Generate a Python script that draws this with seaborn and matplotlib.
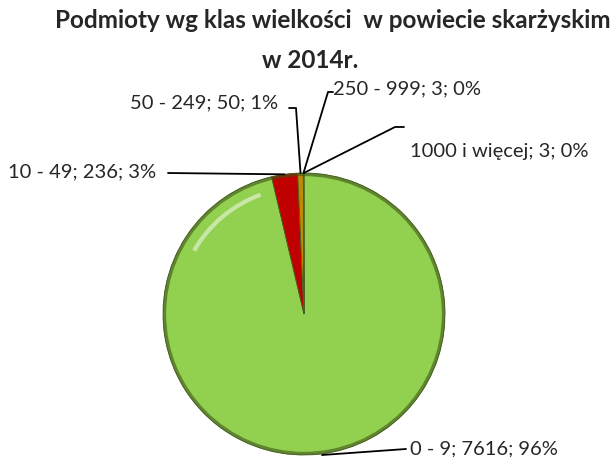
import numpy as np
import matplotlib
matplotlib.use("Agg")
import matplotlib.pyplot as plt
import matplotlib.patches as mpatches
import seaborn as sns

# data
classes = ["0 - 9", "10 - 49", "50 - 249", "250 - 999", "1000 i więcej"]
counts = [7616, 236, 50, 3, 3]
percents = ["96%", "3%", "1%", "0%", "0%"]
colors = ["#92D050", "#C00000", "#C08A00", "#7F6000", "#4F6228"]

sns.set_theme(style="white")
plt.rcParams['font.family'] = ['Lato', 'DejaVu Sans']

fig = plt.figure(figsize=(6.11, 4.57), dpi=100)
W, H = 611, 457

# pie axes: center ~ (304, 314) px, radius ~141 px
cx, cy, r = 304, 314, 141
ax = fig.add_axes([(cx - r) / W, 1 - (cy + r) / H, 2 * r / W, 2 * r / H])
wedges, _ = ax.pie(counts, colors=colors, startangle=90, counterclock=False,
                   wedgeprops=dict(edgecolor="#4a6020", linewidth=0.6))
ax.set_xlim(-1, 1)
ax.set_ylim(-1, 1)
ax.set_aspect("equal")
ax.axis("off")

# glossy look: dark rim and a soft highlight
ax.add_patch(mpatches.Circle((0, 0), 0.99, fill=False, edgecolor="#3d5418",
                             linewidth=2.5, alpha=0.6))
ax.add_patch(mpatches.Arc((0, 0), 1.8, 1.8, theta1=110, theta2=150,
                          color="white", linewidth=3, alpha=0.5))

fig.text(0.545, 0.955, "Podmioty wg klas wielkości  w powiecie skarżyskim",
         ha="center", va="center", fontsize=17.5, fontweight="bold")
fig.text(0.508, 0.868, "w 2014r.", ha="center", va="center",
         fontsize=17.5, fontweight="bold")

# label text positions (pixel)
label_pos = [(410, 449), (8, 172), (130, 103), (333, 89), (410, 152)]

def px2fig(x, y):
    return x / W, 1 - y / H

for i, w in enumerate(wedges):
    ang = np.deg2rad((w.theta1 + w.theta2) / 2)
    ex = cx + r * np.cos(ang)
    ey = cy - r * np.sin(ang)
    if i == 0:
        # 0-9 leader touches the bottom of the pie
        ex, ey = 322, 455
    tx, ty = label_pos[i]
    txt = f"{classes[i]}; {counts[i]}; {percents[i]}"
    fig.text(*px2fig(tx, ty), txt, ha="left", va="center", fontsize=14.5)
    if i == 1:
        xs, ys = [168, ex], [173, ey]
    elif i == 2:
        xs, ys = [289, 296, ex], [108, 108, ey]
    elif i == 3:
        xs, ys = [333, 328, ex], [92, 92, ey]
    elif i == 4:
        xs, ys = [404, 395, ex], [127, 127, ey]
    else:
        xs, ys = [406, ex], [449, ey]
    fx = [x / W for x in xs]
    fy = [1 - y / H for y in ys]
    fig.add_artist(plt.Line2D(fx, fy, color="black", linewidth=1.3,
                              transform=fig.transFigure))

fig.savefig("out.png", dpi=100)
